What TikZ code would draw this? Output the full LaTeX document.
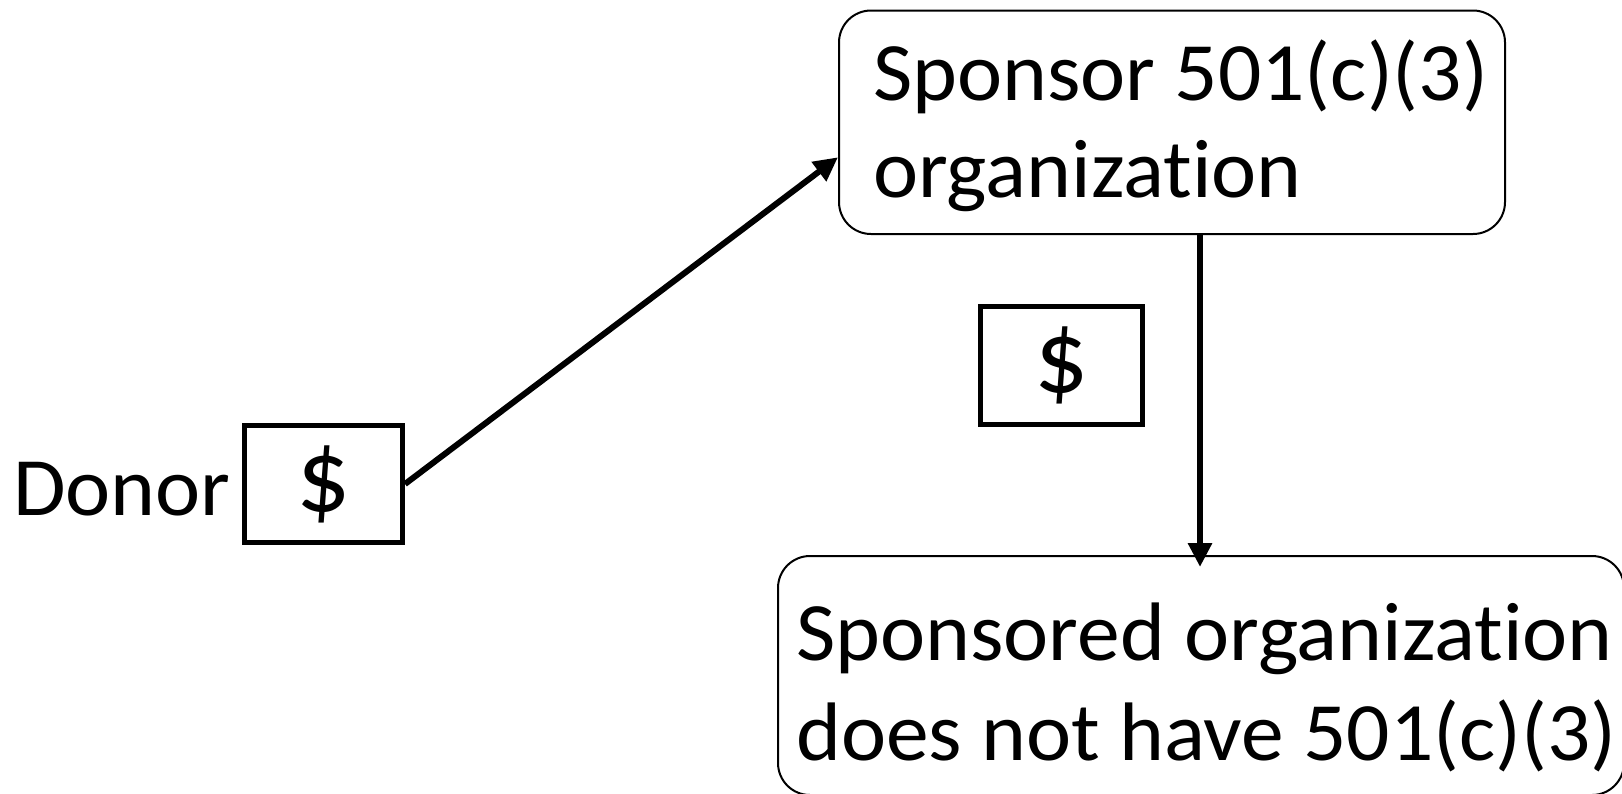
\documentclass[tikz,border=0pt]{standalone}
\usepackage{fontspec}
\setmainfont[Ligatures={NoCommon,NoRequired,NoContextual},FakeStretch=1.03]{Carlito}
\usetikzlibrary{arrows.meta}
\begin{document}
\begin{tikzpicture}[x=1pt,y=-1pt,
  roundbox/.style={draw, line width=2pt, rounded corners=32pt, inner sep=0pt},
  cashbox/.style={draw, line width=5pt, inner sep=0pt, font=\fontsize{104}{120}\selectfont},
  lbl/.style={inner sep=0pt, anchor=base west, font=\fontsize{83}{99}\selectfont},
  flow/.style={line width=6pt, -{Triangle[length=24pt,width=23pt]}}]
\useasboundingbox (0,0) rectangle (1622,793);
\clip (0,0) rectangle (1622,793);
% boxes
\node[roundbox, minimum width=666pt, minimum height=223.5pt] (spon) at (1172,122.25) {};
\node[roundbox, minimum width=846pt, minimum height=239pt] (bot) at (1201,675.5) {};
\node[cashbox, minimum width=158pt, minimum height=117pt] (dbox) at (323.5,484) {\$};
\node[cashbox, minimum width=162pt, minimum height=118pt] (mbox) at (1061.5,365.5) {\$};
% texts
\node[lbl] (donor) at (13,515) {Donor};
\node[lbl] (sp1) at (873,100) {Sponsor 501(c)(3)};
\node[lbl] (sp2) at (873,197) {organization};
\node[lbl] (so1) at (796,660) {Sponsored organization};
\node[lbl] (so2) at (796,760) {does not have 501(c)(3)};
% connectors
\coordinate (sponin) at ([yshift=-35pt]spon.west);
\coordinate (sponout) at ([xshift=28pt]spon.south);
\coordinate (botin) at ([xshift=-1pt,yshift=-12pt]bot.north);
\draw[flow] (dbox.east) -- (sponin);
\draw[flow] (sponout) -- (botin);
\end{tikzpicture}
\end{document}
